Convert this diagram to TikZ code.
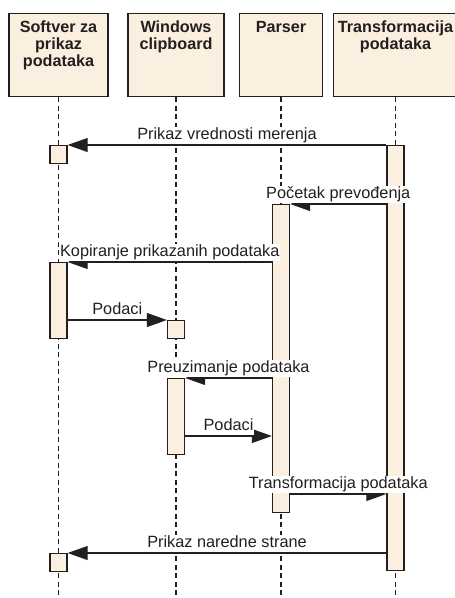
\documentclass[tikz,border=0pt]{standalone}
\usepackage{fontspec}
\setmainfont{Liberation Sans}
\usetikzlibrary{arrows.meta}
\definecolor{boxfill}{HTML}{FBF0DF}
\definecolor{ink}{HTML}{231F20}

\begin{document}
\begin{tikzpicture}[x=1pt,y=-1pt,
    headbox/.style={rectangle, draw=ink, line width=1.3pt, fill=boxfill, minimum height=83pt, anchor=north, inner sep=0pt},
    headtext/.style={anchor=north, align=center, inner sep=0pt, yshift=-8pt, font=\fontsize{16.2}{17}\selectfont\bfseries, text=ink},
    lifeline/.style={draw=ink, line width=1.1pt, dash pattern=on 5pt off 3.5pt},
    bar/.style={rectangle, draw=ink, line width=1.4pt, fill=boxfill, minimum width=17pt, anchor=north, inner sep=0pt},
    msg/.style={draw=ink, line width=1.1pt, -{Triangle[length=20pt,width=14pt]}},
    msglabel/.style={midway, above, fill=white, inner sep=1pt, text depth=4pt, font=\fontsize{16.3}{18}\selectfont, text=ink}]
    \useasboundingbox (0,0) rectangle (455,598);
    \clip (0,0) rectangle (455,598);

    % heads
    \node (softver) [headbox, minimum width=99pt, label={[headtext]north:Softver za\\prikaz\\podataka}] at (58.5,13) {};
    \node (clipboard) [headbox, minimum width=96pt, label={[headtext]north:Windows\\clipboard}] at (176,13) {};
    \node (parser) [headbox, minimum width=83pt, label={[headtext]north:Parser}] at (281,13) {};
    \node (transform) [headbox, minimum width=124pt, label={[headtext]north:Transformacija\\podataka}] at (395.5,13) {};

    % lifelines
    \foreach \n in {softver,clipboard,parser,transform}
        \draw[lifeline] (\n.south) -- ++(0,502);

    % activations
    \node (s1) [bar, minimum height=18pt] at (58.5,145) {};
    \node (tb) [bar, minimum height=425pt] at (395.5,145) {};
    \node (p1) [bar, minimum height=308pt] at (281,204) {};
    \node (s2) [bar, minimum height=76pt] at (58.5,262) {};
    \node (c1) [bar, minimum height=18pt] at (176,320) {};
    \node (c2) [bar, minimum height=76pt] at (176,378) {};
    \node (s3) [bar, minimum height=18pt] at (58.5,553) {};
    \coordinate (t6) at (0,436);
    \coordinate (t7) at (0,494);

    % messages
    \draw[msg] (tb.north west) -- node[msglabel] (m1) {Prikaz vrednosti merenja} (s1.north east);
    \draw[msg] (tb.west |- p1.north) -- node[msglabel] (m2) {Početak prevođenja} (p1.north east);
    \draw[msg] (p1.west |- s2.north) -- node[msglabel] (m3) {Kopiranje prikazanih podataka} (s2.north east);
    \draw[msg] (s2.east |- c1.north) -- node[msglabel] (m4) {Podaci} (c1.north west);
    \draw[msg] (p1.west |- c2.north) -- node[msglabel] (m5) {Preuzimanje podataka} (c2.north east);
    \draw[msg] (c2.east |- t6) -- node[msglabel] (m6) {Podaci} (p1.west |- t6);
    \draw[msg] (p1.east |- t7) -- node[msglabel] (m7) {Transformacija podataka} (tb.west |- t7);
    \draw[msg] (tb.west |- s3.north) -- node[msglabel] (m8) {Prikaz naredne strane} (s3.north east);
\end{tikzpicture}
\end{document}
